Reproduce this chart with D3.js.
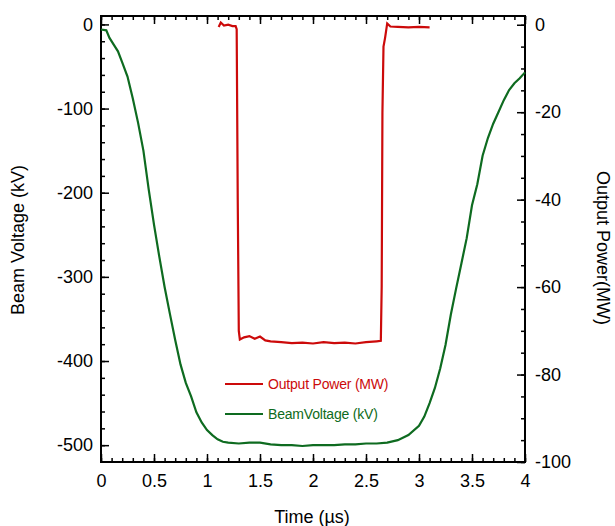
<!DOCTYPE html>
<html>
<head>
<meta charset="utf-8">
<script src="https://cdn.jsdelivr.net/npm/d3@7"></script>
<style>
  body { margin: 0; background: #fff; }
  svg { font-family: "Liberation Sans", Arial, sans-serif; }
</style>
</head>
<body>
<svg id="chart" width="615" height="526"></svg>
<script>
// beam voltage trace (kV), left axis
var beamTime = [0, 0.05, 0.08, 0.12, 0.16, 0.2, 0.25, 0.3, 0.35, 0.4, 0.45, 0.5, 0.55, 0.6,
  0.65, 0.7, 0.75, 0.8, 0.85, 0.9, 0.95, 1.0, 1.05, 1.1, 1.15, 1.2, 1.3, 1.4, 1.5, 1.6, 1.7,
  1.8, 1.9, 2.0, 2.1, 2.2, 2.3, 2.4, 2.5, 2.6, 2.7, 2.8, 2.9, 3.0, 3.05, 3.1, 3.15, 3.2, 3.25,
  3.3, 3.35, 3.4, 3.45, 3.5, 3.55, 3.6, 3.65, 3.7, 3.75, 3.8, 3.85, 3.9, 3.95, 4.0];
var beamVoltage = [-6, -7, -16, -24, -32, -45, -62, -88, -117, -150, -196, -238, -276, -312,
  -344, -375, -404, -426, -442, -461, -473, -482, -488, -493, -496, -497, -498, -497, -497, -499, -500,
  -500, -501, -500, -500, -500, -499, -499, -498, -498, -497, -494, -488, -477, -466, -450, -432, -409, -381,
  -345, -314, -284, -254, -215, -190, -156, -135, -118, -104, -90, -78, -70, -64, -57];

// output power trace (MW), right axis
var powerTime = [1.11, 1.13, 1.16, 1.2, 1.24, 1.27, 1.28, 1.29, 1.3, 1.31, 1.35, 1.4, 1.45,
  1.5, 1.55, 1.6, 1.7, 1.8, 1.9, 2.0, 2.1, 2.2, 2.3, 2.4, 2.5, 2.6, 2.64, 2.648, 2.655, 2.665,
  2.68, 2.7, 2.73, 2.8, 2.9, 3.0, 3.1];
var outputPower = [-0.5, 0.5, -0.2, 0, -0.3, -0.3, -1, -40, -70, -72, -71.5, -71.2, -71.8,
  -71.3, -72.2, -72.4, -72.6, -72.8, -72.7, -72.9, -72.6, -72.8, -72.7, -72.9, -72.6, -72.4, -72.3, -60, -20, -5,
  -3, 0.3, -0.4, -0.5, -0.6, -0.5, -0.6];

var xTicks = [0, 0.5, 1, 1.5, 2, 2.5, 3, 3.5, 4];
var leftTicks = [0, -100, -200, -300, -400, -500];
var rightTicks = [0, -20, -40, -60, -80, -100];

var seriesNames = ["Output Power (MW)", "BeamVoltage (kV)"];
var red = "#cc0a0a", green = "#0e6b20";

var margin = { left: 101, right: 90, top: 16, bottom: 64 };
var width = 615 - margin.left - margin.right;
var height = 526 - margin.top - margin.bottom;

var svg = d3.select("#chart");
var g = svg.append("g").attr("transform", "translate(" + margin.left + "," + margin.top + ")");

var xScale = d3.scaleLinear().domain([0, 4]).range([0, width]);
var yLeft = d3.scaleLinear().domain([-520, 10]).range([height, 0]);
var yRight = d3.scaleLinear().domain([-100, 2]).range([height, 0]);

// plain hyphen labels, as in the original figure
var plain = function (d) { return String(d); };

// minor ticks first
function minor(axis, ticks) {
  return axis.tickValues(ticks).tickSize(-4).tickFormat("");
}
g.append("g").attr("class", "minor").attr("transform", "translate(0," + height + ")")
  .call(minor(d3.axisBottom(xScale), d3.range(0, 4.001, 0.1)));
g.append("g").attr("class", "minor")
  .call(minor(d3.axisTop(xScale), d3.range(0, 4.001, 0.1)));
g.append("g").attr("class", "minor")
  .call(minor(d3.axisLeft(yLeft), d3.range(-500, 1, 20)));
g.append("g").attr("class", "minor").attr("transform", "translate(" + width + ",0)")
  .call(minor(d3.axisRight(yRight), d3.range(-100, 1, 5)));

// major ticks with labels
g.append("g").attr("class", "major").attr("transform", "translate(0," + height + ")")
  .call(d3.axisBottom(xScale).tickValues(xTicks).tickSizeInner(-8).tickSizeOuter(0).tickPadding(12)
    .tickFormat(plain));
g.append("g").attr("class", "major")
  .call(d3.axisTop(xScale).tickValues(xTicks).tickSizeInner(-8).tickSizeOuter(0).tickFormat(""));
g.append("g").attr("class", "major")
  .call(d3.axisLeft(yLeft).tickValues(leftTicks).tickSizeInner(-8).tickSizeOuter(0).tickPadding(8)
    .tickFormat(plain));
g.append("g").attr("class", "major").attr("transform", "translate(" + width + ",0)")
  .call(d3.axisRight(yRight).tickValues(rightTicks).tickSizeInner(-8).tickSizeOuter(0).tickPadding(10)
    .tickFormat(plain));

g.selectAll(".minor .domain").remove();
g.selectAll(".major .domain").remove();
g.selectAll(".tick line").attr("stroke", "#000").attr("stroke-width", 1.5);
g.selectAll(".major text").attr("font-size", 18).attr("fill", "#000")
  .attr("font-family", "'Liberation Sans', Arial, sans-serif");

// frame
g.append("rect").attr("width", width).attr("height", height)
  .attr("fill", "none").attr("stroke", "#000").attr("stroke-width", 2);

var beamLine = d3.line()
  .x(function (d, i) { return xScale(beamTime[i]); })
  .y(function (d) { return yLeft(d); });
var powerLine = d3.line()
  .x(function (d, i) { return xScale(powerTime[i]); })
  .y(function (d) { return yRight(d); });

g.append("path").datum(beamVoltage).attr("d", beamLine)
  .attr("fill", "none").attr("stroke", green).attr("stroke-width", 2.2);
g.append("path").datum(outputPower).attr("d", powerLine)
  .attr("fill", "none").attr("stroke", red).attr("stroke-width", 2.2);

// legend
var legend = svg.append("g").attr("transform", "translate(225,384)");
[red, green].forEach(function (c, i) {
  legend.append("line").attr("x1", 0).attr("x2", 38).attr("y1", i * 30).attr("y2", i * 30)
    .attr("stroke", c).attr("stroke-width", 2);
  legend.append("text").attr("x", 43).attr("y", i * 30 + 5).text(seriesNames[i])
    .attr("fill", c).attr("font-size", 14).attr("letter-spacing", -0.2);
});

// axis titles
svg.append("text").attr("transform", "translate(24,240) rotate(-90)")
  .attr("text-anchor", "middle").attr("font-size", 18).text("Beam Voltage (kV)");
svg.append("text").attr("transform", "translate(597,248) rotate(90)")
  .attr("text-anchor", "middle").attr("font-size", 18).text("Output Power(MW)");
svg.append("text").attr("x", 312).attr("y", 523)
  .attr("text-anchor", "middle").attr("font-size", 18).text("Time (\u00b5s)");
</script>
</body>
</html>
